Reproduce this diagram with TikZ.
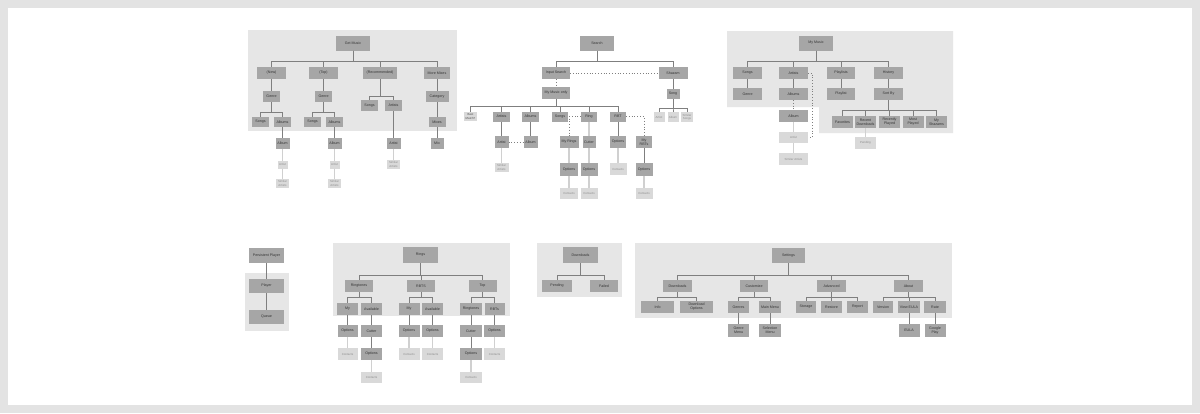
\documentclass[tikz,border=0pt]{standalone}
\usepackage{fontspec}
\setmainfont{Liberation Sans}
\usepackage{xcolor}
\definecolor{frame}{HTML}{E3E3E3}
\definecolor{panel}{HTML}{E6E6E6}
\definecolor{boxd}{HTML}{A6A6A6}
\definecolor{boxl}{HTML}{D9D9D9}
\definecolor{lnd}{HTML}{7F7F7F}
\definecolor{lnl}{HTML}{D0D0D0}
\tikzset{
	bx/.style={fill=boxd,text=black!80,font=\fontsize{3.6}{4}\selectfont,inner sep=0pt,outer sep=0pt,align=center},
	lt/.style={bx,fill=boxl,text=black!45,font=\fontsize{2.9}{3.4}\selectfont},
	sz/.style 2 args={minimum width=#1pt,minimum height=#2pt},
	ln/.style={draw=lnd,line width=0.8pt},
	lln/.style={draw=lnl,line width=1.1pt},
	dt/.style={draw=lnd,line width=0.8pt,dotted},
	pnl/.style={fill=panel},
}
\begin{document}
\begin{tikzpicture}[x=1pt,y=-1pt]
		\fill[frame] (0,0) rectangle (1200,413);
		\fill[white] (8,8) rectangle (1192,405);
		\useasboundingbox (0,0) rectangle (1200,413);
		%获取音乐
		\fill[pnl] (248,30) rectangle (457,131);
		\draw (353,43) node[bx,sz={34}{15}](g){Get Music};
		\draw (271.5,73) node[bx,sz={29}{12}](g-n){(New)} (323.5,73) node[bx,sz={29}{12}](g-t){(Top)}
			(380,73) node[bx,sz={34}{12}](g-r){(Recommended)} (437,73) node[bx,sz={26}{12}](g-m){More Mixes};
		\draw (271.5,96.5) node[bx,sz={17}{11}](g-n-g){Genre} (323.5,96.5) node[bx,sz={17}{11}](g-t-g){Genre}
			(369.5,105.5) node[bx,sz={17}{11}](g-r-s){Songs} (393.5,105.5) node[bx,sz={17}{11}](g-r-a){Artists}
			(437,96.5) node[bx,sz={23}{11}](g-m-c){Category};
		\draw (260.5,122) node[bx,sz={17}{10}](g-n-s){Songs} (282.5,122) node[bx,sz={17}{10}](g-n-a){Albums}
			(312.5,122) node[bx,sz={17}{10}](g-t-s){Songs} (334.5,122) node[bx,sz={17}{10}](g-t-a){Albums}
			(437,122) node[bx,sz={17}{10}](g-m-x){Mixes};
		\draw (282.5,143.5) node[bx,sz={14}{11}](g-n-al){Album} (334.5,143.5) node[bx,sz={14}{11}](g-t-al){Album}
			(393.5,143) node[bx,sz={14}{11}](g-r-ar){Artist} (437,143.5) node[bx,sz={13}{11}](g-m-mx){Mix};
		\draw (282.5,164.5) node[lt,sz={10}{8}](g-n-ar){Artist} (282.5,183.5) node[lt,sz={13}{9}](g-n-sa){Similar\\Artists}
			(334.5,164.5) node[lt,sz={10}{8}](g-t-ar){Artist} (334.5,183.5) node[lt,sz={13}{9}](g-t-sa){Similar\\Artists}
			(393.5,164.5) node[lt,sz={13}{9}](g-r-sa){Similar\\Artists};
		\foreach \c in {g-n,g-t,g-r,g-m} \draw[ln] (g.south) -- ++(0,10.5) -| (\c.north);
		\foreach \p in {n,t} \draw[ln] (g-\p) -- (g-\p-g) (g-\p-g.south) -- ++(0,10) -| (g-\p-s.north)
			(g-\p-g.south) -- ++(0,10) -| (g-\p-a.north) (g-\p-a) -- (g-\p-al);
		\foreach \p in {n,t} \draw[lln] (g-\p-al) -- (g-\p-ar) -- (g-\p-sa);
		\draw[ln] (g-r.south) -- ++(0,17) -| (g-r-s.north) (g-r.south) -- ++(0,17) -| (g-r-a.north) (g-r-a) -- (g-r-ar);
		\draw[ln] (g-m) -- (g-m-c) -- (g-m-x) -- (g-m-mx);
		\draw[lln] (g-r-ar) -- (g-r-sa);
		%搜索
		\draw (597,43) node[bx,sz={34}{15}](s){Search};
		\draw (556,73) node[bx,sz={28}{12}](s-i){Input Search} (673,73) node[bx,sz={29}{12}](s-z){Shazam}
			(556,93) node[bx,sz={28}{12}](s-o){My Music only} (673,94) node[bx,sz={13}{10}](s-z-s){Song};
		\draw (659,117) node[lt,sz={11}{10}](s-z-1){Artist} (673,117) node[lt,sz={11}{10}](s-z-2){Album}
			(687,117) node[lt,sz={12}{10}](s-z-3){Similar\\Songs};
		\draw (470.5,116.5) node[lt,text=black!70,sz={13}{9}](s-b){Best\\Match?}
			(501.5,116.5) node[bx,sz={17}{10}](s-ar){Artists} (530.5,116.5) node[bx,sz={17}{10}](s-al){Albums}
			(560,116.5) node[bx,sz={16}{10}](s-s){Songs} (589,116.5) node[bx,sz={16}{10}](s-r){Ring}
			(618,116.5) node[bx,sz={16}{10}](s-t){RBT};
		\draw (501.5,142) node[bx,sz={14}{12}](s-ar-1){Artist} (530.5,142) node[bx,sz={14}{12}](s-al-1){Album}
			(569,142) node[bx,sz={19}{12}](s-r-m){My Rings} (589,142) node[bx,sz={13}{12}](s-r-c){Cutter}
			(618,142) node[bx,sz={16}{12}](s-t-o){Options} (644,142) node[bx,sz={16}{12}](s-t-m){My\\RBTs};
		\draw (501.5,167.5) node[lt,sz={14}{9}](s-ar-2){Similar\\Artists}
			(569,169.5) node[bx,sz={18}{13}](s-r-m-o){Options} (589,169.5) node[bx,sz={17}{13}](s-r-c-o){Options}
			(618,169) node[lt,sz={17}{12}](s-t-o-c){Contacts} (644,169.5) node[bx,sz={17}{13}](s-t-m-o){Options};
		\draw (569,193.5) node[lt,sz={18}{11}](s-r-m-c){Contacts} (589,193.5) node[lt,sz={17}{11}](s-r-c-c){Contacts}
			(644,193.5) node[lt,sz={17}{11}](s-t-m-c){Contacts};
		\foreach \c in {s-i,s-z} \draw[ln] (s.south) -- ++(0,10.5) -| (\c.north);
		\draw[dt] (s-i) -- (s-z) (s-i) -- (s-o);
		\draw[ln] (s-z) -- (s-z-s);
		\foreach \c in {s-z-1,s-z-2,s-z-3} \draw[ln] (s-z-s.south) -- ++(0,9) -| (\c.north);
		\foreach \c in {s-b,s-ar,s-al,s-s,s-r,s-t} \draw[ln] (s-o.south) -- ++(0,7) -| (\c.north);
		\draw[ln] (s-ar) -- (s-ar-1) (s-al) -- (s-al-1) (s-t) -- (s-t-o) (s-t-m) -- (s-t-m-o);
		\draw[dt] (s-ar-1) -- (s-al-1) (s-r.west) -| (s-r-m.north) (s-t.east) -| (s-t-m.north);
		\draw[lln] (s-ar-1) -- (s-ar-2) (s-r) -- (s-r-c) -- (s-r-c-o) -- (s-r-c-c) (s-r-m) -- (s-r-m-o) -- (s-r-m-c)
			(s-t-o) -- (s-t-o-c) (s-t-m-o) -- (s-t-m-c);
		%我的音乐
		\fill[pnl] (727,31) -- (953,31) -- (953,133) -- (819,133) -- (819,107) -- (727,107) -- cycle;
		\draw (816,43) node[bx,sz={34}{15}](m){My Music};
		\draw (747.5,73) node[bx,sz={29}{12}](m-s){Songs} (793.5,73) node[bx,sz={29}{12}](m-a){Artists}
			(841,73) node[bx,sz={28}{12}](m-p){Playlists} (888.5,73) node[bx,sz={29}{12}](m-h){History};
		\draw (747.5,94) node[bx,sz={29}{12}](m-s-1){Genre} (793.5,94) node[bx,sz={29}{12}](m-a-1){Albums}
			(841,94) node[bx,sz={28}{12}](m-p-1){Playlist} (888.5,94) node[bx,sz={29}{12}](m-h-1){Sort By};
		\draw (793.5,116) node[bx,sz={29}{12}](m-a-2){Album} (793.5,137.5) node[lt,sz={29}{11}](m-a-3){Artist}
			(793.5,159) node[lt,sz={29}{12}](m-a-4){Similar Artists};
		\draw (842.5,122) node[bx,sz={21}{12}](m-h-2){Favorites} (865.5,122) node[bx,sz={21}{12}](m-h-3){Recent\\Downloads}
			(889.5,122) node[bx,sz={21}{12}](m-h-4){Recently\\Played} (913,122) node[bx,sz={21}{12}](m-h-5){Most\\Played}
			(936.5,122) node[bx,sz={21}{12}](m-h-6){My\\Shazams} (865.5,143) node[lt,sz={21}{12}](m-h-7){Pending};
		\foreach \c in {m-s,m-a,m-p,m-h} \draw[ln] (m.south) -- ++(0,10.5) -| (\c.north);
		\draw[ln] (m-s) -- (m-s-1) (m-a) -- (m-a-1) (m-p) -- (m-p-1) (m-h) -- (m-h-1);
		\foreach \c in {m-h-2,m-h-3,m-h-4,m-h-5,m-h-6} \draw[ln] (m-h-1.south) -- ++(0,10) -| (\c.north);
		\draw[dt] (m-a-1) -- (m-a-2) (m-a.east) -- ++(4,0) |- (m-a-3.east);
		\draw[lln] (m-a-2) -- (m-a-3) -- (m-a-4) (m-h-3) -- (m-h-7);
		%播放器
		\fill[pnl] (245,273) rectangle (289,331);
		\draw (266.5,255.5) node[bx,sz={35}{15}](p){Persistent Player} (266.5,286) node[bx,sz={35}{14}](p-1){Player}
			(266.5,317) node[bx,sz={35}{14}](p-2){Queue};
		\draw[ln] (p) -- (p-1) -- (p-2);
		%铃声
		\fill[pnl] (333,243) rectangle (510,316);
		\draw (420.5,255) node[bx,sz={35}{16}](r){Rings};
		\draw (359,286) node[bx,sz={28}{12}](r-1){Ringtones} (421,286) node[bx,sz={28}{12}](r-2){RBTS}
			(482.5,286) node[bx,sz={28}{12}](r-3){Top};
		\draw (347.5,309) node[bx,sz={21}{12}](r-1-1){My} (371.5,309) node[bx,sz={21}{12}](r-1-2){Available}
			(409,309) node[bx,sz={21}{12}](r-2-1){My} (432.5,309) node[bx,sz={21}{12}](r-2-2){Available}
			(471,309) node[bx,sz={22}{12}](r-3-1){Ringtones} (494.5,309) node[bx,sz={20}{12}](r-3-2){RBTs};
		\draw (347.5,331) node[bx,sz={20}{12}](r-1-1-o){Options} (371.5,331) node[bx,sz={21}{12}](r-1-2-c){Cutter}
			(409,331) node[bx,sz={21}{12}](r-2-1-o){Options} (432.5,331) node[bx,sz={21}{12}](r-2-2-o){Options}
			(471,331) node[bx,sz={22}{12}](r-3-1-c){Cutter} (494.5,331) node[bx,sz={21}{12}](r-3-2-o){Options};
		\draw (347.5,354) node[lt,sz={20}{12}](r-1-1-k){Contacts} (371.5,354) node[bx,sz={21}{12}](r-1-2-o){Options}
			(409,354) node[lt,sz={21}{12}](r-2-1-k){Contacts} (432.5,354) node[lt,sz={21}{12}](r-2-2-k){Contacts}
			(471,354) node[bx,sz={22}{12}](r-3-1-o){Options} (494.5,354) node[lt,sz={21}{12}](r-3-2-k){Contacts};
		\draw (371.5,377.5) node[lt,sz={21}{11}](r-1-2-k){Contacts} (471,377.5) node[lt,sz={22}{11}](r-3-1-k){Contacts};
		\foreach \c in {r-1,r-2,r-3} \draw[ln] (r.south) -- ++(0,12) -| (\c.north);
		\foreach \p in {1,2,3} \foreach \q in {1,2} \draw[ln] (r-\p.south) -- ++(0,5) -| (r-\p-\q.north);
		\draw[ln] (r-1-1) -- (r-1-1-o) (r-1-2) -- (r-1-2-c) -- (r-1-2-o) (r-2-1) -- (r-2-1-o) (r-2-2) -- (r-2-2-o)
			(r-3-1) -- (r-3-1-c) -- (r-3-1-o) (r-3-2) -- (r-3-2-o);
		\draw[lln] (r-1-1-o) -- (r-1-1-k) (r-1-2-o) -- (r-1-2-k) (r-2-1-o) -- (r-2-1-k) (r-2-2-o) -- (r-2-2-k)
			(r-3-1-o) -- (r-3-1-k) (r-3-2-o) -- (r-3-2-k);
		%下载
		\fill[pnl] (537,243) rectangle (622,297);
		\draw (580.5,255) node[bx,sz={35}{16}](d){Downloads} (557,286) node[bx,sz={30}{12}](d-1){Pending}
			(604,286) node[bx,sz={28}{12}](d-2){Failed};
		\foreach \c in {d-1,d-2} \draw[ln] (d.south) -- ++(0,12) -| (\c.north);
		%设置
		\fill[pnl] (635,243) rectangle (952,318);
		\draw (788.5,255.5) node[bx,sz={33}{15}](t){Settings};
		\draw (677.5,286) node[bx,sz={29}{12}](t-1){Downloads} (754,286) node[bx,sz={28}{12}](t-2){Customize}
			(831.5,286) node[bx,sz={29}{12}](t-3){Advanced} (908.5,286) node[bx,sz={29}{12}](t-4){About};
		\draw (657.5,307) node[bx,sz={33}{12}](t-1-1){Info} (696.5,307) node[bx,sz={33}{12}](t-1-2){Download\\Options}
			(738.5,307) node[bx,sz={21}{12}](t-2-1){Genres} (770,307) node[bx,sz={22}{12}](t-2-2){Main Menu}
			(806,307) node[bx,sz={20}{12}](t-3-1){Storage} (831.5,307) node[bx,sz={21}{12}](t-3-2){Restore}
			(857.5,307) node[bx,sz={21}{12}](t-3-3){Report} (883,307) node[bx,sz={20}{12}](t-4-1){Version}
			(909,307) node[bx,sz={22}{12}](t-4-2){View EULA} (935,307) node[bx,sz={22}{12}](t-4-3){Rate};
		\draw (738.5,330.5) node[bx,sz={21}{13}](t-2-3){Genre\\Menu} (770,330.5) node[bx,sz={22}{13}](t-2-4){Selection\\Menu}
			(909,330.5) node[bx,sz={21}{13}](t-4-4){EULA} (935,330.5) node[bx,sz={21}{13}](t-4-5){Google\\Play};
		\foreach \c in {t-1,t-2,t-3,t-4} \draw[ln] (t.south) -- ++(0,12) -| (\c.north);
		\foreach \c in {t-1-1,t-1-2} \draw[ln] (t-1.south) -- ++(0,5) -| (\c.north);
		\foreach \c in {t-2-1,t-2-2} \draw[ln] (t-2.south) -- ++(0,5) -| (\c.north);
		\foreach \c in {t-3-1,t-3-2,t-3-3} \draw[ln] (t-3.south) -- ++(0,5) -| (\c.north);
		\foreach \c in {t-4-1,t-4-2,t-4-3} \draw[ln] (t-4.south) -- ++(0,5) -| (\c.north);
		\draw[ln] (t-2-1) -- (t-2-3) (t-2-2) -- (t-2-4) (t-4-2) -- (t-4-4) (t-4-3) -- (t-4-5);
	\end{tikzpicture}
\end{document}
